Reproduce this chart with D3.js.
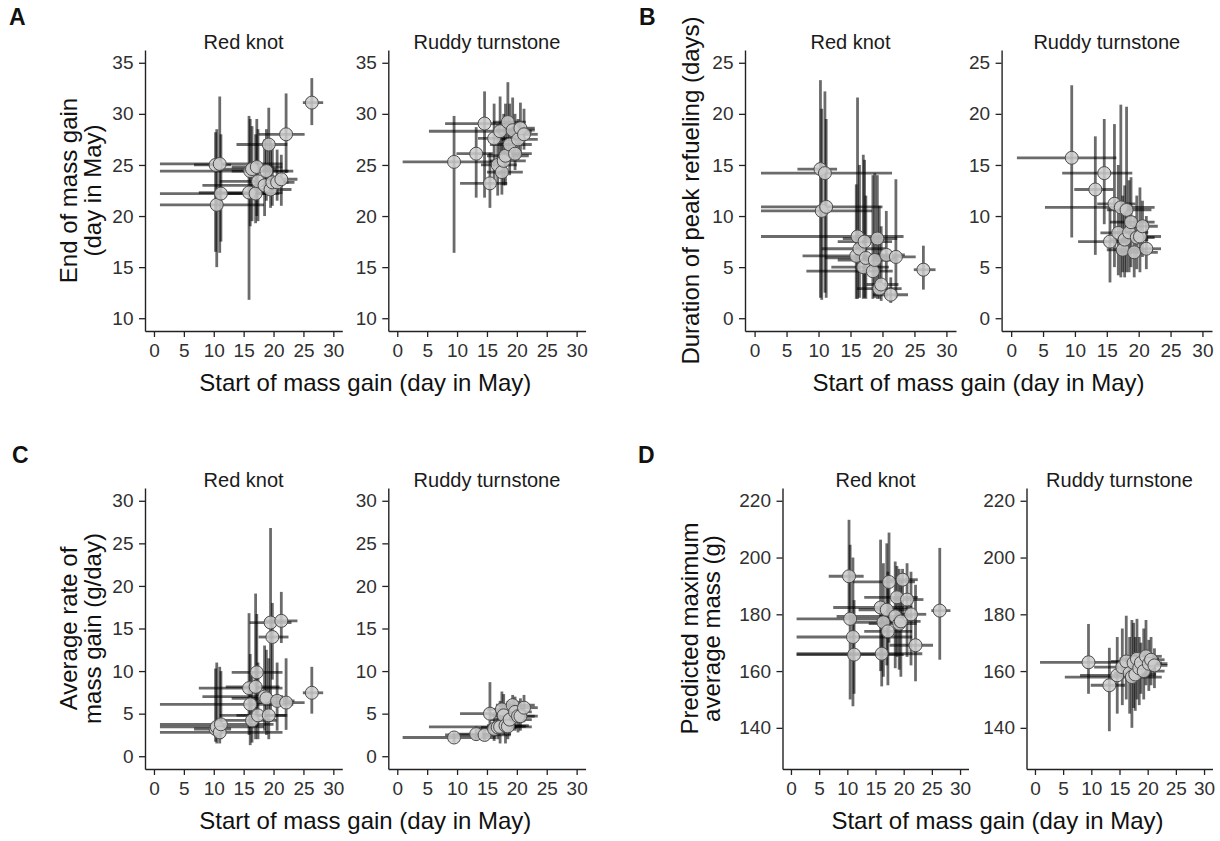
<!DOCTYPE html>
<html>
<head>
<meta charset="utf-8">
<script src="https://cdn.jsdelivr.net/npm/d3@7"></script>
<style>
  body { margin: 0; background: #fff; }
  text { font-family: "Liberation Sans", Arial, sans-serif; }
</style>
</head>
<body>
<svg id="fig" width="1220" height="841"></svg>
<script>
// ---- Red knot: start of mass gain (day in May) with 95% interval ----
const knotStart     = [10.3, 10.5, 11.0, 11.2, 15.9, 16.1, 16.4, 17.0, 17.2, 17.4, 18.5, 18.8, 19.2, 19.5, 19.8, 20.6, 21.3, 22.1, 26.4];
const knotStartLow  = [ 6.7,  1.0,  1.0,  1.0,  7.5,  1.0, 10.5, 12.0, 13.0, 11.0,  8.1, 13.0, 13.8, 16.0, 17.5, 18.0, 18.5, 17.5, 24.9];
const knotStartHigh = [12.9, 18.4, 21.5, 20.0, 21.5, 23.3, 20.5, 21.0, 21.5, 22.0, 21.6, 22.5, 22.3, 23.0, 22.5, 23.5, 24.0, 25.2, 28.3];

// end of mass gain (day in May)
const knotEnd       = [25.0, 21.1, 25.1, 22.2, 22.3, 24.4, 24.6, 22.2, 24.8, 23.4, 23.0, 24.4, 27.0, 22.6, 23.3, 23.3, 23.6, 28.0, 31.1];
const knotEndLow    = [16.5, 15.0, 16.4, 17.5, 11.8, 19.0, 19.5, 19.3, 20.0, 19.5, 20.0, 21.5, 22.6, 20.8, 21.0, 21.5, 21.0, 24.2, 28.9];
const knotEndHigh   = [28.2, 28.5, 31.7, 28.0, 29.8, 29.5, 28.8, 28.0, 29.5, 28.5, 27.5, 28.5, 30.6, 27.5, 27.0, 26.5, 26.0, 32.0, 33.5];

// duration of peak refueling (days)
const knotDur       = [14.6, 10.5, 14.2, 10.9,  6.1,  8.0,  6.8,  5.0,  7.5,  5.9,  4.6,  5.7,  7.8,  2.9,  3.3,  6.2,  2.3,  6.0, 4.75];
const knotDurLow    = [ 2.0,  1.8,  2.5,  2.0,  1.9,  1.9,  2.0,  1.9,  2.0,  1.9,  1.9,  2.0,  1.9,  1.9,  1.7,  2.0,  1.5,  2.0,  2.8];
const knotDurHigh   = [23.3, 20.5, 22.2, 19.5, 13.1, 21.6, 15.0, 16.0, 15.5, 12.0, 14.0, 14.2, 14.0, 11.0,  9.0, 10.5,  4.0, 13.6,  7.1];

// average rate of mass gain (g/day)
const knotRate      = [ 3.2, 3.45,  2.8, 3.75,  8.0,  6.1,  4.2, 8.15, 9.85,  4.8,  7.0,  6.8,  4.8, 15.7, 14.0,  6.5, 15.9,  6.3, 7.45];
const knotRateLow   = [ 1.7,  1.5,  1.5,  2.0,  2.5,  1.3,  1.6,  2.0,  3.5,  2.0,  3.0,  2.5,  2.0,  5.5,  9.0,  3.0, 13.3,  3.1,  5.0];
const knotRateHigh  = [10.3, 11.0, 10.5, 10.0, 16.8, 12.0, 10.0, 19.1, 16.7, 11.0, 13.0, 12.5, 11.5, 26.8, 18.0, 11.0, 19.3, 11.5, 10.5];

// predicted maximum average mass (g)
const knotMass      = [193.4, 178.4, 172.0, 165.8, 182.4, 166.1, 177.2, 181.6, 174.0, 191.4, 179.3, 186.0, 176.7, 177.5, 192.2, 185.2, 180.0, 169.1, 181.3];
const knotMassLow   = [180.0, 150.0, 147.6, 152.0, 160.0, 154.6, 158.0, 162.0, 155.0, 170.0, 161.0, 165.0, 160.5, 158.0, 178.0, 165.0, 162.0, 156.4, 164.0];
const knotMassHigh  = [213.3, 204.5, 200.0, 185.0, 206.3, 180.0, 198.0, 205.0, 195.0, 208.8, 198.6, 197.0, 196.0, 192.0, 196.0, 198.0, 195.0, 190.4, 203.4];

// ---- Ruddy turnstone ----
const turnStart     = [ 9.5, 13.2, 14.6, 15.5, 16.2, 16.8, 17.2, 17.5, 17.8, 18.1, 18.5, 18.8, 19.3, 19.7, 20.2, 20.6, 21.2];
const turnStartLow  = [ 0.9,  9.9,  8.0, 10.5, 13.5, 14.0,  5.3, 15.0, 15.5, 15.0, 16.0, 15.5, 16.5, 17.0, 17.5, 18.0, 18.5];
const turnStartHigh = [16.5, 16.0, 19.0, 18.4, 19.5, 20.0, 22.5, 21.0, 21.5, 22.0, 21.5, 22.5, 23.0, 22.5, 23.5, 23.0, 23.5];

const turnEnd       = [25.3, 26.1, 29.05, 23.2, 27.6, 25.0, 28.3, 24.3, 25.4, 25.9, 29.2, 27.0, 28.4, 26.1, 27.5, 28.6, 28.0];
const turnEndLow    = [16.4, 21.8, 21.8, 20.8, 23.5, 22.0, 24.0, 22.1, 23.0, 23.0, 26.0, 24.0, 25.5, 24.5, 25.5, 26.0, 26.5];
const turnEndHigh   = [29.8, 28.7, 32.2, 26.2, 31.0, 29.0, 31.7, 28.0, 30.0, 31.0, 33.1, 31.0, 31.6, 30.0, 29.5, 31.1, 30.5];

const turnDur       = [15.7, 12.6, 14.2,  7.5, 11.2, 8.35, 10.85, 6.7,  7.7, 10.6,  8.4,  9.4, 6.45,  7.9,  8.0,  9.0,  6.8];
const turnDurLow    = [ 7.9,  6.2,  9.2,  3.5,  5.0,  4.2,  4.0,  4.5,  4.0,  4.5,  4.5,  5.0,  4.0,  4.8,  4.5,  6.0,  4.8];
const turnDurHigh   = [22.8, 17.8, 19.5, 11.0, 19.0, 15.0, 20.9, 12.0, 13.0, 20.7, 13.5, 13.8, 10.0, 12.0, 12.8, 11.5, 10.0];

const turnRate      = [ 2.2,  2.6,  2.5,  5.0,  3.2,  3.4, 3.45,  5.5,  4.8,  3.6,  3.5,  4.3,  6.0,  5.2,  4.7,  4.7,  5.7];
const turnRateLow   = [ 1.6,  1.8,  1.8,  2.5,  1.8,  2.0,  1.5,  3.0,  2.5,  1.5,  2.0,  2.5,  3.5,  3.0,  2.8,  3.0,  4.0];
const turnRateHigh  = [ 2.8,  3.5,  3.3,  8.7,  5.0,  5.5,  6.5,  7.6,  7.3,  6.0,  6.5,  6.5,  7.2,  7.0,  6.5,  6.8,  7.2];

const turnMass      = [163.1, 155.0, 158.5, 161.4, 163.4, 159.3, 157.9, 162.9, 158.8, 164.3, 161.0, 162.9, 160.0, 165.2, 162.6, 164.0, 162.0];
const turnMassLow   = [152.0, 138.8, 145.0, 148.0, 150.0, 145.0, 140.0, 147.0, 146.0, 150.0, 148.0, 152.0, 150.0, 155.0, 153.0, 155.0, 154.0];
const turnMassHigh  = [176.6, 168.2, 172.0, 175.0, 179.5, 172.0, 178.0, 177.0, 172.0, 178.4, 172.0, 170.0, 175.0, 178.0, 171.0, 172.0, 168.0];

// ---- Labels and axis ticks ----
const speciesNames = ["Red knot", "Ruddy turnstone"];
const xTicks = [0, 5, 10, 15, 20, 25, 30];
const xLimits = [0, 30];
const xTitle = "Start of mass gain (day in May)";
const endTicks  = [10, 15, 20, 25, 30, 35];
const durTicks  = [0, 5, 10, 15, 20, 25];
const rateTicks = [0, 5, 10, 15, 20, 25, 30];
const massTicks = [140, 160, 180, 200, 220];

// bundle the per-bird arrays
function birds(start, lo, hi, y, ylo, yhi) {
  return start.map((s, i) => ({ x: s, xlo: lo[i], xhi: hi[i], y: y[i], ylo: ylo[i], yhi: yhi[i] }));
}

const figures = [
  { letter: "A", yTitle: ["End of mass gain", "(day in May)"], yLimits: [10, 35], yTicks: endTicks,
    data: [birds(knotStart, knotStartLow, knotStartHigh, knotEnd, knotEndLow, knotEndHigh),
           birds(turnStart, turnStartLow, turnStartHigh, turnEnd, turnEndLow, turnEndHigh)],
    panels: [[145, 342.3], [388.3, 585.6]], top: 50, bottom: 331,
    letterX: 9, titleX: [77, 101] },
  { letter: "B", yTitle: ["Duration of peak refueling (days)"], yLimits: [0, 25], yTicks: durTicks,
    data: [birds(knotStart, knotStartLow, knotStartHigh, knotDur, knotDurLow, knotDurHigh),
           birds(turnStart, turnStartLow, turnStartHigh, turnDur, turnDurLow, turnDurHigh)],
    panels: [[745, 956], [1001.6, 1212]], top: 50, bottom: 331,
    letterX: 639, titleX: [699] },
  { letter: "C", yTitle: ["Average rate of", "mass gain (g/day)"], yLimits: [0, 30], yTicks: rateTicks,
    data: [birds(knotStart, knotStartLow, knotStartHigh, knotRate, knotRateLow, knotRateHigh),
           birds(turnStart, turnStartLow, turnStartHigh, turnRate, turnRateLow, turnRateHigh)],
    panels: [[145, 342.3], [388.3, 585.6]], top: 488, bottom: 769,
    letterX: 12, titleX: [77, 101] },
  { letter: "D", yTitle: ["Predicted maximum", "average mass (g)"], yLimits: [130, 220], yTicks: massTicks,
    data: [birds(knotStart, knotStartLow, knotStartHigh, knotMass, knotMassLow, knotMassHigh),
           birds(turnStart, turnStartLow, turnStartHigh, turnMass, turnMassLow, turnMassHigh)],
    panels: [[782.5, 968.5], [1026.5, 1212.5]], top: 488, bottom: 769,
    letterX: 638, titleX: [698, 720] }
];

const svg = d3.select("#fig");
const expand = ([a, b]) => [a - 0.05 * (b - a), b + 0.05 * (b - a)];

figures.forEach(fig => {
  const g = svg.append("g");

  // panel letter
  g.append("text").attr("x", fig.letterX).attr("y", fig.top - 25)
    .attr("font-size", 23).attr("font-weight", "bold").attr("fill", "#111").text(fig.letter);

  // y-axis title (one or two lines)
  const midY = (fig.top + fig.bottom) / 2;
  fig.yTitle.forEach((line, k) => {
    g.append("text")
      .attr("transform", `translate(${fig.titleX[k]},${midY}) rotate(-90)`)
      .attr("text-anchor", "middle").attr("font-size", 24).attr("fill", "#111").text(line);
  });

  // shared x-axis title
  const xMid = (fig.panels[0][0] + fig.panels[1][1]) / 2;
  g.append("text").attr("x", xMid).attr("y", fig.bottom + 60)
    .attr("text-anchor", "middle").attr("font-size", 24).attr("fill", "#111").text(xTitle);

  fig.panels.forEach(([left, right], p) => {
    const x = d3.scaleLinear().domain(expand(xLimits)).range([left, right]);
    const y = d3.scaleLinear().domain(expand(fig.yLimits)).range([fig.bottom, fig.top]);
    const pts = fig.data[p];
    const pg = g.append("g");

    // strip label
    pg.append("text").attr("x", (left + right) / 2).attr("y", fig.top - 1)
      .attr("text-anchor", "middle").attr("font-size", 20).attr("fill", "#1a1a1a").text(speciesNames[p]);

    // axes
    const ax = pg.append("g").attr("transform", `translate(0,${fig.bottom})`)
      .call(d3.axisBottom(x).tickValues(xTicks).tickSize(6).tickSizeOuter(0).tickPadding(6.5));
    const ay = pg.append("g").attr("transform", `translate(${left},0)`)
      .call(d3.axisLeft(y).tickValues(fig.yTicks).tickSize(6).tickSizeOuter(0).tickPadding(5.5));
    [ax, ay].forEach(a => {
      a.select(".domain").attr("stroke", "#222").attr("stroke-width", 1.4);
      a.selectAll(".tick line").attr("stroke", "#222").attr("stroke-width", 1.3);
      a.selectAll(".tick text").attr("font-size", 19).attr("fill", "#303030")
        .attr("font-family", "'Liberation Sans', Arial, sans-serif");
    });

    // error bars: vertical then horizontal
    const bars = pg.append("g").attr("stroke", "#000").attr("stroke-opacity", 0.58).attr("stroke-width", 2.8);
    bars.selectAll("line.v").data(pts).join("line").attr("class", "v")
      .attr("x1", d => x(d.x)).attr("x2", d => x(d.x))
      .attr("y1", d => y(d.ylo)).attr("y2", d => y(d.yhi));
    bars.selectAll("line.h").data(pts).join("line").attr("class", "h")
      .attr("x1", d => x(d.xlo)).attr("x2", d => x(d.xhi))
      .attr("y1", d => y(d.y)).attr("y2", d => y(d.y));

    // estimates
    pg.append("g").selectAll("circle").data(pts).join("circle")
      .attr("cx", d => x(d.x)).attr("cy", d => y(d.y)).attr("r", 6.5)
      .attr("fill", "#cdcdcd").attr("fill-opacity", 0.85)
      .attr("stroke", "#4a4a4a").attr("stroke-width", 1);
  });
});
</script>
</body>
</html>
